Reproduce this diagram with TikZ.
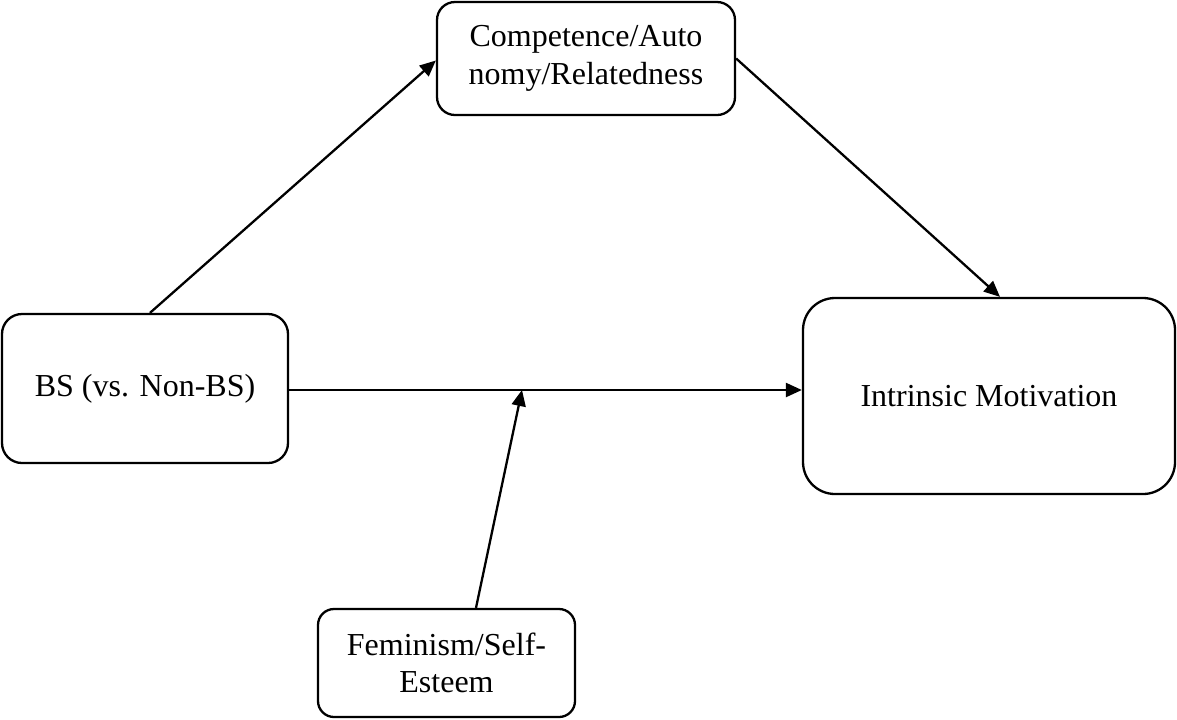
\documentclass[tikz,border=0pt]{standalone}
\usepackage{fontspec}
\setmainfont{Liberation Serif}
\usetikzlibrary{arrows.meta}
\begin{document}
\begin{tikzpicture}[x=0.5pt,y=-0.5pt,
  box/.style={draw=black, line width=1.15pt, align=center, inner sep=0pt,
    font=\fontsize{16}{18.7}\selectfont},
  arr/.style={line width=1.15pt, -{Triangle[length=8pt,width=7pt]}}]
\useasboundingbox (0,0) rectangle (1177,719);
\node[box, rounded corners=9pt, minimum width=149pt, minimum height=56.5pt] (top) at (586,58.5) {Competence/Auto\\nomy/Relatedness};
\node[box, rounded corners=10pt, minimum width=143pt, minimum height=74.5pt] (left) at (145,388.5) {BS (vs. Non-BS)};
\node[box, rounded corners=16pt, minimum width=186pt, minimum height=98pt] (right) at (989,396) {Intrinsic Motivation};
\node[box, rounded corners=8pt, minimum width=128.5pt, minimum height=54pt] (bottom) at (446.5,663) {Feminism/Self-\\Esteem};
\coordinate (m) at (522,390);
\draw[arr] ([xshift=2.5pt]left.north) -- ([yshift=-1pt]top.west);
\draw[arr] (top.east) -- ([xshift=5.5pt]right.north);
\draw[arr] ([yshift=-0.75pt]left.east) -- ([yshift=-0.75pt]left.east -| right.west);
\draw[arr] ([xshift=14.75pt]bottom.north) -- (m);
\end{tikzpicture}
\end{document}
